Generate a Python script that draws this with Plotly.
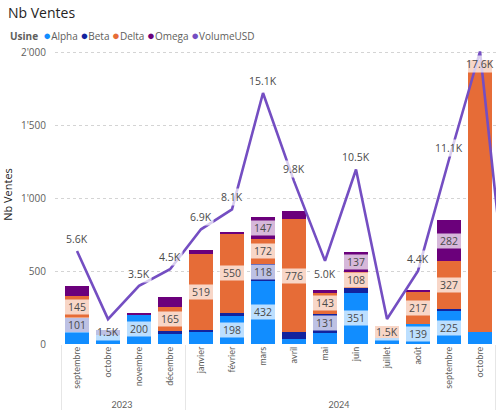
import plotly.graph_objects as go

# ---- data ----
years = ["2023"] * 4 + ["2024"] * 11
months = ["septembre", "octobre", "novembre", "décembre", "janvier", "février", "mars",
          "avril", "mai", "juin", "juillet", "août", "septembre", "octobre", "novembre"]
alpha = [80, 64, 200, 71, 80, 198, 432, 34, 75, 351, 40, 139, 225, 82, 10]
beta = [101, 34, 0, 18, 18, 11, 118, 46, 131, 32, 0, 0, 14, 0, 0]
delta = [145, 0, 0, 165, 519, 550, 172, 776, 143, 108, 80, 217, 327, 1861, 0]
omega = [68, 0, 7, 66, 25, 8, 147, 53, 23, 137, 0, 16, 282, 0, 0]
volume_usd = [5600, 1500, 3500, 4500, 6900, 8100, 15100, 9800, 5000, 10500, 1500, 4400, 11100, 17600, 200]
y_tick_vals = [0, 500, 1000, 1500, 2000]
y_tick_text = ["0", "500", "1'000", "1'500", "2'000"]
legend_title = "Usine"

FONT = "Segoe UI, Open Sans, sans-serif"
colors = {"Alpha": "#118DFF", "Beta": "#12239E", "Delta": "#E66C37", "Omega": "#6B007B"}
line_color = "#744EC2"

# make inner labels unique per year (zero-width spaces) so the axis keeps chronological order
inner = []
seen = {}
for m in months:
    k = seen.get(m, 0)
    seen[m] = k + 1
    inner.append(m + "\u200b" * k)
x = [years, inner]
n = len(months)

fig = go.Figure()
series = [("Alpha", alpha), ("Beta", beta), ("Delta", delta), ("Omega", omega)]
for name, vals in series:
    fig.add_bar(x=x, y=vals, name=name, marker=dict(color=colors[name], line=dict(width=0)),
                showlegend=False)

fig.add_scatter(x=x, y=volume_usd, yaxis="y2", mode="lines", name="VolumeUSD",
                line=dict(color=line_color, width=2.6), showlegend=False)

annotations = []
base = [0] * n
for name, vals in series:
    for i, v in enumerate(vals):
        if 100 <= v < 1000:
            annotations.append(dict(x=i, y=base[i] + v / 2, xref="x", yref="y", text=str(v),
                                    showarrow=False, width=24, height=14, borderpad=0,
                                    bgcolor="rgba(255,255,255,0.72)",
                                    font=dict(family=FONT, size=10.5, color="#4A4A4A")))
        base[i] += v

vmax = max(volume_usd)
for i, v in enumerate(volume_usd):
    left = volume_usd[i - 1] if i > 0 else None
    right = volume_usd[i + 1] if i < n - 1 else None
    is_min = (left is None or v < left) and (right is None or v < right)
    below = is_min or v == vmax
    annotations.append(dict(x=i, y=v, xref="x", yref="y2", text=f"{v/1000:.1f}K",
                            showarrow=False, yshift=-13 if below else 12, borderpad=1,
                            bgcolor="rgba(255,255,255,0.72)",
                            font=dict(family=FONT, size=10.5, color="#4A4A4A")))

plot_left, plot_top, plot_bottom = 55, 45, 67
plot_w = 496 - plot_left
plot_h = 411 - plot_top - plot_bottom
y_max = plot_h / 0.146
y2_max = plot_h / 0.01662

# compact legend line (title + round markers)
legend_items = [(nm, c) for nm, c in colors.items()] + [("VolumeUSD", line_color)]
legend_text = f"<b>{legend_title}</b>  " + "".join(
    f"<span style='color:{c};font-size:13px'>●</span>{nm} " for nm, c in legend_items)
annotations.append(dict(x=(8 - plot_left) / plot_w, xref="paper", xanchor="left",
                        y=1 + (plot_top - 35) / plot_h, yref="paper", yanchor="middle",
                        text=legend_text, showarrow=False, align="left",
                        font=dict(family=FONT, size=10, color="#605E5C")))

fig.update_layout(
    width=496, height=411,
    margin=dict(l=plot_left, r=0, t=plot_top, b=plot_bottom, autoexpand=False),
    paper_bgcolor="white", plot_bgcolor="white",
    barmode="stack", bargap=0.22, showlegend=False,
    font=dict(family=FONT, color="#605E5C", size=10),
    title=dict(text="Nb Ventes", x=8 / 496, xanchor="left", y=1 - 13 / 411, yanchor="middle",
               font=dict(family=FONT, size=14, color="#252423")),
    xaxis=dict(type="multicategory", range=[-0.71, 13.516], tickangle=-90,
               showgrid=False, showline=False, ticks="", automargin=False,
               showdividers=True, dividercolor="#E6E6E6", dividerwidth=1,
               tickfont=dict(family="Lato, " + FONT, size=9, color="#605E5C")),
    yaxis=dict(range=[0, y_max], tickvals=y_tick_vals, ticktext=y_tick_text,
               showgrid=True, gridcolor="#D4D4D4", griddash="dot", gridwidth=1,
               zeroline=False, showline=False, ticks="", ticklabelstandoff=8,
               automargin=False,
               title=dict(text="Nb Ventes", font=dict(family=FONT, size=11, color="#252423"), standoff=6),
               tickfont=dict(family=FONT, size=10, color="#605E5C")),
    yaxis2=dict(range=[0, y2_max], overlaying="y", visible=False),
    annotations=annotations,
)

fig.write_html("out.html", post_script="document.body.style.margin='0';",
               config={"displayModeBar": False})
